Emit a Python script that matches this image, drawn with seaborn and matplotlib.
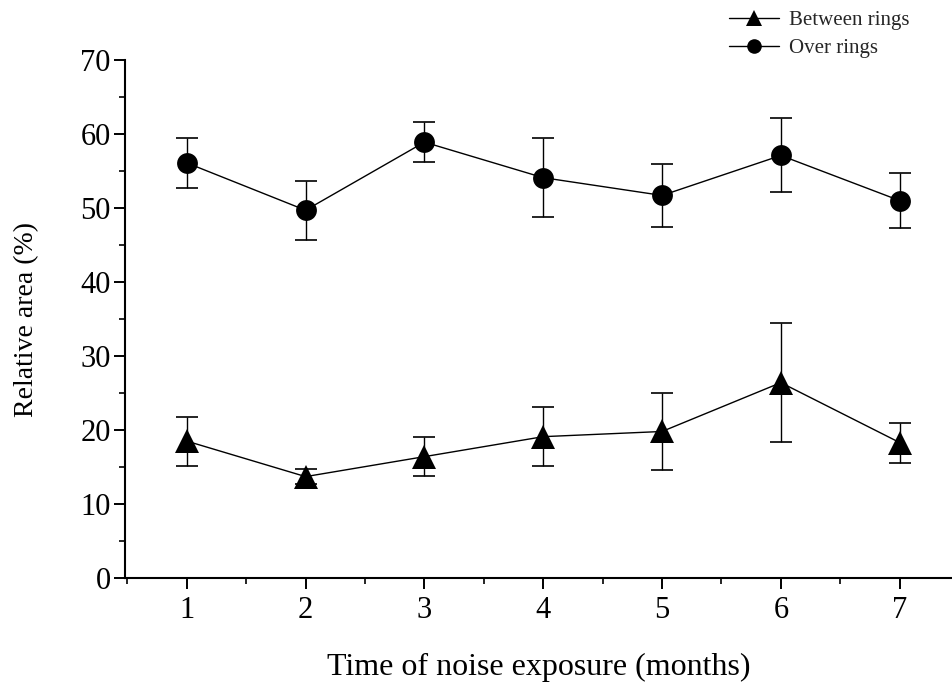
import matplotlib
matplotlib.use("Agg")
import matplotlib.pyplot as plt
import seaborn as sns
import pandas as pd
from matplotlib.ticker import MultipleLocator

months = [1, 2, 3, 4, 5, 6, 7]
between_mean = [18.5, 13.7, 16.4, 19.1, 19.8, 26.4, 18.3]
between_err = [3.3, 1.0, 2.6, 4.0, 5.2, 8.0, 2.7]
over_mean = [56.1, 49.7, 58.9, 54.1, 51.7, 57.1, 51.0]
over_err = [3.4, 4.0, 2.7, 5.3, 4.3, 5.0, 3.75]
series_names = ["Between rings", "Over rings"]

sns.set_theme(style="ticks")
plt.rcParams['font.family'] = ['Liberation Serif', 'DejaVu Serif']

df_between = pd.DataFrame({"month": months, "value": between_mean, "series": series_names[0]})
df_over = pd.DataFrame({"month": months, "value": over_mean, "series": series_names[1]})

fig = plt.figure(figsize=(9.52, 6.82), dpi=100)
ax = fig.add_axes([0.131, 0.1525, 0.869, 0.7595])

ax.errorbar(months, between_mean, yerr=between_err, fmt='none', ecolor='black',
            elinewidth=1.0, capsize=8, capthick=1.2, zorder=2)
ax.errorbar(months, over_mean, yerr=over_err, fmt='none', ecolor='black',
            elinewidth=1.0, capsize=8, capthick=1.2, zorder=2)

sns.lineplot(data=df_between, x="month", y="value", color='black', marker='^',
             label=series_names[0], ax=ax, linewidth=1.0, markersize=17,
             markeredgewidth=0, zorder=3)
sns.lineplot(data=df_over, x="month", y="value", color='black', marker='o',
             label=series_names[1], ax=ax, linewidth=1.0, markersize=15,
             markeredgewidth=0, zorder=3)

ax.set_xlim(0.478, 7.44)
ax.set_ylim(0, 70)
ax.xaxis.set_major_locator(MultipleLocator(1))
ax.xaxis.set_minor_locator(MultipleLocator(0.5))
ax.yaxis.set_major_locator(MultipleLocator(10))
ax.yaxis.set_minor_locator(MultipleLocator(5))
ax.tick_params(axis='both', which='major', length=8, width=1.4, direction='out',
               labelsize=22, color='black', labelcolor='black')
ax.tick_params(axis='both', which='minor', length=4.5, width=1.2, direction='out', color='black')
ax.tick_params(axis='y', pad=2)
ax.tick_params(axis='x', pad=5)
sns.despine(ax=ax)
for s in ['left', 'bottom']:
    ax.spines[s].set_linewidth(1.5)
    ax.spines[s].set_color('black')

ax.set_xlabel("Time of noise exposure (months)", fontsize=23, labelpad=20, color='black')
ax.set_ylabel("Relative area (%)", fontsize=20, labelpad=30, color='black')

leg = ax.legend(loc='upper right', bbox_to_anchor=(0.975, 1.012), bbox_transform=fig.transFigure,
                frameon=False, fontsize=15, handlelength=2.4, handletextpad=0.5,
                labelspacing=0.4, markerscale=0.7)

fig.savefig("out.png", dpi=100)
